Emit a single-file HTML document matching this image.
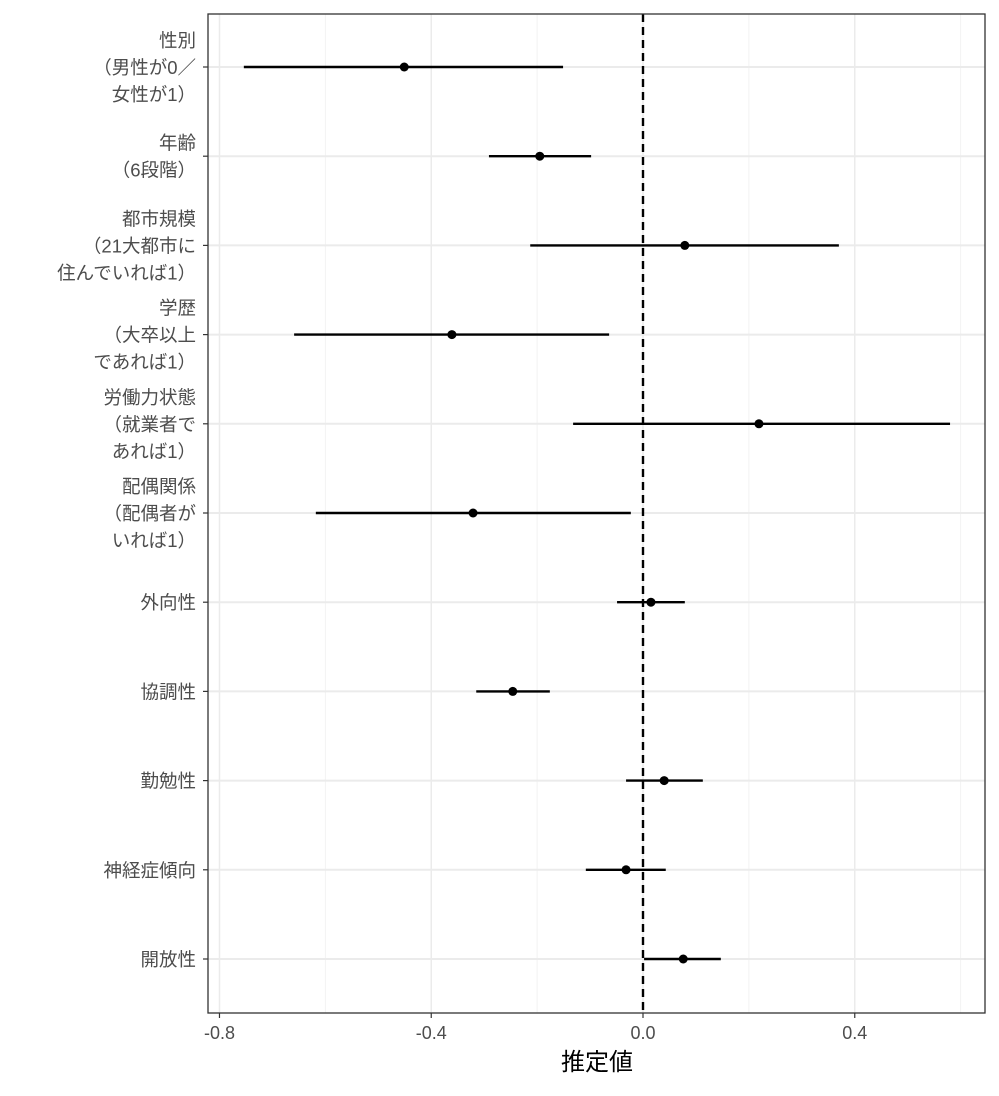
<!DOCTYPE html>
<html><head><meta charset="utf-8"><style>
body{margin:0;background:#fff;}
text{font-family:"Liberation Sans","Noto Sans CJK JP",sans-serif;}
</style></head><body>
<svg id="chart" width="999" height="1091" xmlns="http://www.w3.org/2000/svg"></svg>
<script>
const categories=[["性別","（男性が0／","女性が1）"],["年齢","（6段階）"],["都市規模","（21大都市に","住んでいれば1）"],["学歴","（大卒以上","であれば1）"],["労働力状態","（就業者で","あれば1）"],["配偶関係","（配偶者が","いれば1）"],["外向性"],["協調性"],["勤勉性"],["神経症傾向"],["開放性"]];
const estimates=[-0.451,-0.195,0.079,-0.361,0.219,-0.321,0.015,-0.246,0.040,-0.032,0.076];
const lower=[-0.754,-0.291,-0.213,-0.659,-0.132,-0.618,-0.049,-0.315,-0.032,-0.108,0.002];
const upper=[-0.151,-0.098,0.370,-0.064,0.580,-0.023,0.079,-0.176,0.113,0.043,0.147];
const majorTicks=[-0.8,-0.4,0,0.4];
const tickLabels=["-0.8","-0.4","0.0","0.4"];
const minorTicks=[-0.6,-0.2,0.2,0.6];

const NS="http://www.w3.org/2000/svg";
const svg=document.getElementById('chart');
const L=208,R=985,T=14,B=1013;
const x=v=>643+v*529.4;
const y=i=>67+i*89.2;
function el(t,a,p){const e=document.createElementNS(NS,t);for(const k in a)e.setAttribute(k,a[k]);(p||svg).appendChild(e);return e;}
minorTicks.forEach(v=>{const l=el('line',{x1:x(v),x2:x(v),y1:T,y2:B,stroke:'#f2f2f2','stroke-width':1});

});
majorTicks.forEach(v=>{const l=el('line',{x1:x(v),x2:x(v),y1:T,y2:B,stroke:'#ebebeb','stroke-width':1.5});

});
categories.forEach((c,i)=>{const l=el('line',{x1:L,x2:R,y1:y(i),y2:y(i),stroke:'#ebebeb','stroke-width':2});


const tk=el('line',{x1:L-5,x2:L,y1:y(i),y2:y(i),stroke:'#333','stroke-width':1.2});


const t=el('text',{x:L-12,'text-anchor':'end','font-size':18.5,fill:'#4d4d4d'});


const n=c.length,start=y(i)-(n-1)*13.5+7;
c.forEach((s,j)=>{const ts=el('tspan',{x:L-12,y:start+j*27},t);ts.textContent=s;});});
const zl=el('line',{x1:x(0),x2:x(0),y1:T,y2:B,stroke:'#000','stroke-width':2.4,'stroke-dasharray':'8,5'});


estimates.forEach((v,i)=>{const ln=el('line',{x1:x(lower[i]),x2:x(upper[i]),y1:y(i),y2:y(i),stroke:'#000','stroke-width':2.4});


const p=el('circle',{cx:x(v),cy:y(i),r:4.5,fill:'#000'});

});
majorTicks.forEach((v,i)=>{const tk=el('line',{x1:x(v),x2:x(v),y1:B,y2:B+5,stroke:'#333','stroke-width':1.2});


const t=el('text',{x:x(v),y:B+26,'text-anchor':'middle','font-size':18,fill:'#4d4d4d'});t.textContent=tickLabels[i];

});
const fr=el('rect',{x:L,y:T,width:R-L,height:B-T,fill:'none',stroke:'#333','stroke-width':1.3});


const xt=el('text',{x:597,y:1070,'text-anchor':'middle','font-size':24,fill:'#000'});xt.textContent='推定値';


</script>
</body></html>
